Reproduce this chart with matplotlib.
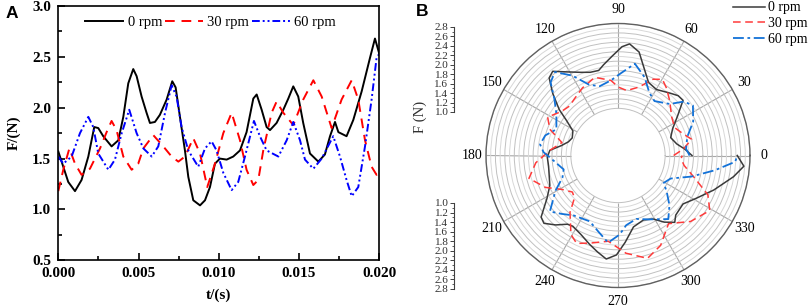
import numpy as np
import matplotlib
matplotlib.use('Agg')
import matplotlib.pyplot as plt
from matplotlib.ticker import MultipleLocator, FormatStrFormatter

# ---------------- data ----------------
t0 = [0.0, 0.00031, 0.00062, 0.00104, 0.00145, 0.00187, 0.00224, 0.00249, 0.00280, 0.00332,
      0.00374, 0.00405, 0.00436, 0.00467, 0.00488, 0.00519, 0.00550, 0.00571, 0.00602, 0.00633,
      0.00675, 0.00710, 0.00731, 0.00758, 0.00789, 0.00810, 0.00841, 0.00883, 0.00914, 0.00945,
      0.00976, 0.01007, 0.01049, 0.01090, 0.01132, 0.01173, 0.01215, 0.01236, 0.01267, 0.01298,
      0.01319, 0.01360, 0.01402, 0.01433, 0.01464, 0.01495, 0.01526, 0.01568, 0.01620, 0.01661,
      0.01693, 0.01724, 0.01745, 0.01796, 0.01838, 0.01890, 0.01942, 0.01973, 0.02000]
f0 = [1.57, 1.42, 1.27, 1.18, 1.29, 1.52, 1.81, 1.80, 1.72, 1.62,
      1.68, 1.91, 2.24, 2.38, 2.31, 2.11, 1.95, 1.85, 1.86, 1.93,
      2.08, 2.26, 2.20, 1.91, 1.58, 1.32, 1.09, 1.04, 1.09, 1.22,
      1.45, 1.50, 1.49, 1.52, 1.58, 1.76, 2.09, 2.13, 1.98, 1.81,
      1.78, 1.85, 1.98, 2.09, 2.21, 2.11, 1.85, 1.55, 1.47, 1.54,
      1.72, 1.86, 1.76, 1.72, 1.88, 2.16, 2.49, 2.68, 2.53]

t30 = [0.0, 0.00031, 0.00069, 0.00104, 0.00145, 0.00197, 0.00260, 0.00301, 0.00332, 0.00363,
       0.00405, 0.00457, 0.00498, 0.00530, 0.00592, 0.00654, 0.00706, 0.00748, 0.00789, 0.00841,
       0.00883, 0.00928, 0.00976, 0.01028, 0.01080, 0.01132, 0.01173, 0.01215, 0.01246, 0.01277,
       0.01329, 0.01360, 0.01402, 0.01464, 0.01526, 0.01589, 0.01641, 0.01703, 0.01765, 0.01828,
       0.01869, 0.01911, 0.01952, 0.01983, 0.02000]
f30 = [1.18, 1.39, 1.60, 1.45, 1.34, 1.40, 1.60, 1.76, 1.87, 1.78,
       1.52, 1.39, 1.45, 1.60, 1.73, 1.62, 1.52, 1.47, 1.52, 1.70,
       1.55, 1.22, 1.45, 1.75, 1.95, 1.68, 1.39, 1.24, 1.29, 1.58,
       1.95, 2.06, 1.95, 1.83, 2.08, 2.27, 2.11, 1.80, 2.08, 2.27,
       2.08, 1.68, 1.42, 1.34, 1.36]

t60 = [0.0, 0.00031, 0.00083, 0.00135, 0.00187, 0.00218, 0.00249, 0.00312, 0.00353, 0.00395,
       0.00442, 0.00488, 0.00530, 0.00582, 0.00623, 0.00665, 0.00706, 0.00737, 0.00768, 0.00810,
       0.00872, 0.00914, 0.00955, 0.00986, 0.01028, 0.01080, 0.01121, 0.01163, 0.01219, 0.01256,
       0.01298, 0.01371, 0.01423, 0.01464, 0.01506, 0.01537, 0.01589, 0.01641, 0.01713, 0.01755,
       0.01796, 0.01828, 0.01869, 0.01911, 0.01952, 0.01983, 0.02000]
f60 = [1.52, 1.45, 1.52, 1.75, 1.91, 1.81, 1.55, 1.39, 1.49, 1.75,
       1.98, 1.75, 1.60, 1.52, 1.62, 1.95, 2.22, 2.11, 1.81, 1.58,
       1.42, 1.60, 1.67, 1.58, 1.36, 1.19, 1.27, 1.52, 1.87, 1.72,
       1.58, 1.52, 1.68, 1.86, 1.68, 1.49, 1.40, 1.50, 1.72, 1.52,
       1.29, 1.13, 1.22, 1.62, 2.08, 2.49, 2.53]

labels = ['0 rpm', '30 rpm', '60 rpm']
period = 0.02
angle_labels = ['0', '30', '60', '90', '120', '150', '180', '210', '240', '270', '300', '330']
r_ticks = [1.0, 1.2, 1.4, 1.6, 1.8, 2.0, 2.2, 2.4, 2.6, 2.8]

# ---------------- figure ----------------
W, H = 809, 307
fig = plt.figure(figsize=(W / 100, H / 100), dpi=100)
serif = 'Liberation Serif'
plt.rcParams['font.family'] = serif

# ---- Panel A ----
axA = fig.add_axes([58.3 / W, 1 - 260.3 / H, 321.0 / W, 254.3 / H])
axA.plot(t0, f0, color='black', lw=1.4, label=labels[0])
axA.plot(t30, f30, color='#ff0000', lw=1.4, ls=(0, (5, 3.5)), label=labels[1])
axA.plot(t60, f60, color='#0000ff', lw=1.4, ls=(0, (4, 1.5, 1, 1.5, 1, 1.5)), label=labels[2])
axA.set_xlim(0, 0.02)
axA.set_ylim(0.5, 3.0)
axA.xaxis.set_major_locator(MultipleLocator(0.005))
axA.xaxis.set_minor_locator(MultipleLocator(0.0025))
axA.yaxis.set_major_locator(MultipleLocator(0.5))
axA.yaxis.set_minor_locator(MultipleLocator(0.25))
axA.xaxis.set_major_formatter(FormatStrFormatter('%.3f'))
axA.yaxis.set_major_formatter(FormatStrFormatter('%.1f'))
axA.tick_params(which='both', direction='in', top=False, right=False, width=1.2)
axA.tick_params(which='major', length=5, pad=5)
axA.tick_params(which='minor', length=3)
for lab in axA.get_xticklabels() + axA.get_yticklabels():
    lab.set_fontweight('bold')
    lab.set_fontsize(11)
for s in axA.spines.values():
    s.set_linewidth(1.2)
axA.set_xlabel('t/(s)', fontweight='bold', fontsize=11, labelpad=6)
axA.set_ylabel('F/(N)', fontweight='bold', fontsize=11, labelpad=8)
axA.legend(loc='upper center', bbox_to_anchor=(0.475, 1.0), ncol=3, frameon=False,
           fontsize=10.5, handlelength=2.6, handletextpad=0.3, columnspacing=0.2,
           borderaxespad=0.3)

fig.text(12 / W, 1 - 14 / H, 'A', fontsize=12.5, fontweight='bold',
         family='Liberation Sans', ha='center', va='center')
fig.text(422 / W, 1 - 12 / H, 'B', fontsize=12.5, fontweight='bold',
         family='Liberation Sans', ha='center', va='center')

# ---- Panel B (polar) ----
cx, cy, R = 618, 155.5, 132
axB = fig.add_axes([(cx - R) / W, 1 - (cy + R) / H, 2 * R / W, 2 * R / H], projection='polar')
axB.set_ylim(0, 2.8)
axB.set_rgrids(np.arange(1.0, 2.801, 0.1), labels=[])
axB.set_thetagrids(np.arange(0, 360, 30), labels=angle_labels)
axB.xaxis.grid(False)
axB.yaxis.grid(True, color='#d8d8d8', lw=0.7)
for i, gl in enumerate(axB.yaxis.get_gridlines()):
    if i % 2 == 0:
        gl.set_color('#c0c0c0')
axB.vlines(np.deg2rad(np.arange(0, 360, 30)), 1.0, 2.8, color='#a8a8a8', lw=0.8, zorder=1)
axB.tick_params(axis='y', length=0)
axB.tick_params(axis='x', pad=-0.5, labelsize=10)
axB.spines['polar'].set_color('#606060')
axB.spines['polar'].set_linewidth(1.0)

def th(t):
    return np.asarray(t) / period * 2 * np.pi

axB.plot(th(t0), f0, color='#3a3a3a', lw=1.1, label=labels[0], zorder=3)
axB.plot(th(t30), f30, color='#ff3a3a', lw=1.1, ls=(0, (5, 3)), label=labels[1], zorder=3)
axB.plot(th(t60), f60, color='#1372d8', lw=1.3, ls=(0, (6, 2, 1.5, 2)), label=labels[2], zorder=3)

fig.legend(*axB.get_legend_handles_labels(), loc='upper right', bbox_to_anchor=(1.0, 1.0),
           frameon=False, fontsize=10, handlelength=2.3, handletextpad=0.2,
           labelspacing=0.2, borderaxespad=0.0, borderpad=0.1)

# side radial axes
def side_axis(y_top, y_bot, invert):
    ax = fig.add_axes([454 / W, 1 - y_bot / H, 0.0001, (y_bot - y_top) / H])
    ax.patch.set_visible(False)
    if invert:
        ax.set_ylim(2.8, 1.0)
    else:
        ax.set_ylim(1.0, 2.8)
    for s in ['top', 'right', 'bottom']:
        ax.spines[s].set_visible(False)
    ax.spines['left'].set_color('#404040')
    ax.spines['left'].set_linewidth(0.8)
    ax.set_xticks([])
    ax.set_yticks(r_ticks)
    ax.yaxis.set_minor_locator(MultipleLocator(0.1))
    ax.yaxis.set_major_formatter(FormatStrFormatter('%.1f'))
    ax.tick_params(which='major', length=3, width=0.7, pad=1, labelsize=8, colors='#404040')
    ax.tick_params(which='minor', length=1.8, width=0.6, colors='#404040')
    for lab in ax.get_yticklabels():
        lab.set_color('#303030')
    return ax

side_axis(27, 112, False)
side_axis(203, 289, True)
fig.text(420 / W, 1 - 117 / H, 'F (N)', rotation=90, fontsize=10.5,
         ha='center', va='center', color='#303030')

fig.savefig('out.png', dpi=100)
